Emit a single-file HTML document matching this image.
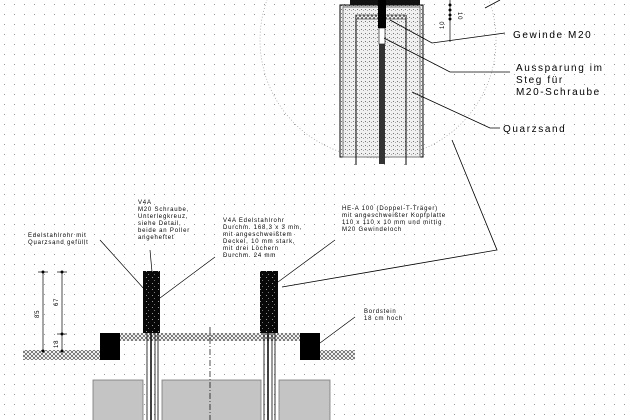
<!DOCTYPE html>
<html><head><meta charset="utf-8"><style>
html,body{margin:0;padding:0;background:#fff}
svg{display:block}
text{font-family:"Liberation Sans",sans-serif;fill:#000}
.s{font-size:6px;letter-spacing:0.8px}
.b{font-size:10px;letter-spacing:1.6px}
</style></head><body>
<svg width="630" height="420" viewBox="0 0 630 420" xmlns="http://www.w3.org/2000/svg">
<defs>
<pattern id="g" width="10" height="10" patternUnits="userSpaceOnUse"><rect x="4" y="4" width="1" height="1" fill="#999"/></pattern>
<pattern id="h" width="4" height="4" patternUnits="userSpaceOnUse"><rect width="4" height="4" fill="#fff"/><path d="M0 0L4 4M4 0L0 4" stroke="#333" stroke-width="0.6"/></pattern>
<pattern id="sd" width="4" height="4" patternUnits="userSpaceOnUse"><rect width="4" height="4" fill="#f0f0f0"/><rect x="1" y="1" width="1" height="1" fill="#777"/><rect x="3" y="2" width="1" height="1" fill="#aaa"/></pattern>
<pattern id="bk" width="6" height="6" patternUnits="userSpaceOnUse"><rect width="6" height="6" fill="#080808"/><rect x="2" y="1" width="1" height="1" fill="#999"/><rect x="4" y="4" width="1" height="1" fill="#777"/></pattern>
</defs>
<rect width="630" height="420" fill="url(#g)"/>
<circle cx="378" cy="40" r="118" fill="none" stroke="#999" stroke-width="0.7" stroke-dasharray="1,2"/>
<rect x="340" y="5" width="83" height="152" fill="url(#sd)" stroke="#000" stroke-width="1"/>
<rect x="343" y="7" width="77" height="150" fill="none" stroke="#777" stroke-width="1"/>
<rect x="350" y="0" width="70" height="5" fill="#111"/>
<line x1="356" y1="15" x2="356" y2="165" stroke="#000"/>
<line x1="406" y1="15" x2="406" y2="165" stroke="#000"/>
<rect x="356" y="15" width="50" height="4" fill="url(#h)" stroke="#000" stroke-width="0.5"/>
<rect x="378" y="0" width="8" height="28" fill="#000"/>
<rect x="379" y="28" width="6" height="16" fill="#fff" stroke="#000" stroke-width="0.6"/>
<rect x="379" y="44" width="6" height="120" fill="#333"/>
<line x1="450" y1="0" x2="450" y2="42" stroke="#000" stroke-width="0.7"/>
<g fill="#000"><circle cx="450" cy="5" r="1.5"/><circle cx="450" cy="10" r="1.5"/><circle cx="450" cy="15" r="1.5"/><circle cx="450" cy="19" r="1.5"/></g>
<text class="s" transform="translate(444,29) rotate(-90)">10</text>
<text class="s" transform="translate(458,12) rotate(90)">10</text>
<g fill="none" stroke="#000" stroke-width="0.8">
<polyline points="390,20 432,43 505,33"/>
<polyline points="384,38 450,72 510,72"/>
<polyline points="412,92 490,128 500,128"/>
<polyline points="452,140 497,250 282,287"/>
<line x1="485" y1="8" x2="500" y2="0"/>
</g>
<text class="b" x="513" y="38">Gewinde M20</text>
<text class="b" x="516" y="71">Aussparung im</text>
<text class="b" x="516" y="83">Steg für</text>
<text class="b" x="516" y="95">M20-Schraube</text>
<text class="b" x="503" y="132">Quarzsand</text>
<rect x="23" y="350" width="77" height="10" fill="url(#h)"/>
<rect x="320" y="350" width="35" height="10" fill="url(#h)"/>
<rect x="120" y="333" width="180" height="8" fill="url(#h)"/>
<rect x="100" y="333" width="20" height="27" fill="#000"/>
<rect x="300" y="333" width="20" height="27" fill="#000"/>
<rect x="143" y="271" width="17" height="62" fill="url(#bk)"/>
<rect x="260" y="271" width="18" height="62" fill="url(#bk)"/>
<g fill="#c4c4c4" stroke="#777" stroke-width="0.8">
<rect x="93" y="380" width="50" height="42"/>
<rect x="162" y="380" width="99" height="42"/>
<rect x="279" y="380" width="51" height="42"/>
</g>
<g stroke="#000" stroke-width="0.8">
<line x1="147" y1="333" x2="147" y2="420"/><line x1="151" y1="333" x2="151" y2="420" stroke-width="1.5"/><line x1="155" y1="333" x2="155" y2="420"/><line x1="158" y1="333" x2="158" y2="420"/>
<line x1="264" y1="333" x2="264" y2="420"/><line x1="268" y1="333" x2="268" y2="420" stroke-width="1.5"/><line x1="272" y1="333" x2="272" y2="420"/><line x1="275" y1="333" x2="275" y2="420"/>
</g>
<line x1="210" y1="327" x2="210" y2="420" stroke="#000" stroke-width="0.7" stroke-dasharray="6,2,1,2"/>
<g stroke="#000" stroke-width="0.7">
<line x1="43" y1="272" x2="43" y2="351"/><line x1="62" y1="272" x2="62" y2="351"/>
<line x1="38" y1="272" x2="48" y2="272"/><line x1="57" y1="272" x2="67" y2="272"/><line x1="57" y1="334" x2="67" y2="334"/>
</g>
<g fill="#000"><circle cx="43" cy="272" r="1.5"/><circle cx="62" cy="272" r="1.5"/><circle cx="62" cy="334" r="1.5"/><circle cx="43" cy="351" r="1.5"/><circle cx="62" cy="351" r="1.5"/></g>
<text class="s" transform="translate(39,318) rotate(-90)">85</text>
<text class="s" transform="translate(58,306) rotate(-90)">67</text>
<text class="s" transform="translate(58,348) rotate(-90)">18</text>
<g fill="none" stroke="#000" stroke-width="0.7">
<line x1="100" y1="240" x2="145" y2="290"/>
<line x1="150" y1="250" x2="152" y2="272"/>
<line x1="215" y1="257" x2="160" y2="298"/>
<line x1="335" y1="240" x2="278" y2="282"/>
<line x1="355" y1="317" x2="320" y2="343"/>
</g>
<text class="s" x="28" y="237">Edelstahlrohr mit</text>
<text class="s" x="28" y="244">Quarzsand gefüllt</text>
<text class="s" x="138" y="204">V4A</text>
<text class="s" x="138" y="211">M20 Schraube,</text>
<text class="s" x="138" y="218">Unterlegkreuz,</text>
<text class="s" x="138" y="225">siehe Detail,</text>
<text class="s" x="138" y="232">beide an Poller</text>
<text class="s" x="138" y="239">angeheftet</text>
<text class="s" x="223" y="222">V4A Edelstahlrohr</text>
<text class="s" x="223" y="229">Durchm. 168,3 x 3 mm,</text>
<text class="s" x="223" y="236">mit angeschweißtem</text>
<text class="s" x="223" y="243">Deckel, 10 mm stark,</text>
<text class="s" x="223" y="250">mit drei Löchern</text>
<text class="s" x="223" y="257">Durchm. 24 mm</text>
<text class="s" x="342" y="210">HE-A 100 (Doppel-T-Träger)</text>
<text class="s" x="342" y="217">mit angeschweißter Kopfplatte</text>
<text class="s" x="342" y="224">110 x 110 x 10 mm und mittig</text>
<text class="s" x="342" y="231">M20 Gewindeloch</text>
<text class="s" x="364" y="313">Bordstein</text>
<text class="s" x="364" y="320">18 cm hoch</text>
</svg>
</body></html>
